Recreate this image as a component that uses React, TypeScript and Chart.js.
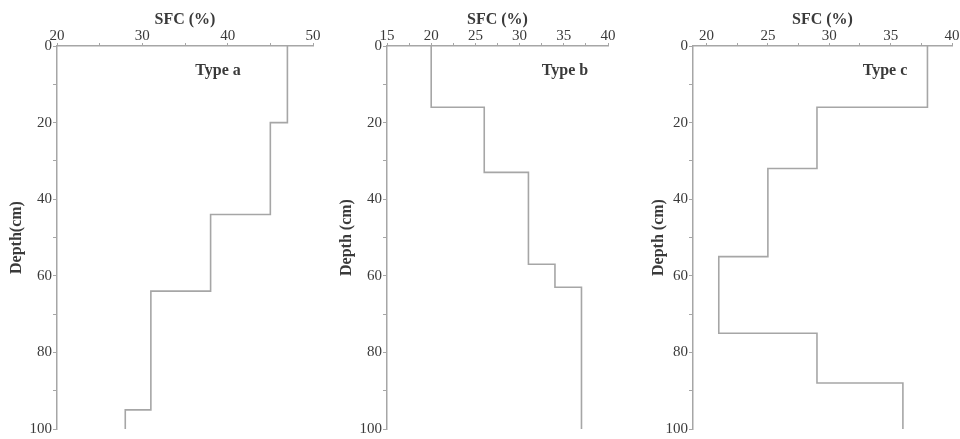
import React, { useEffect, useRef } from "react";
import { Chart, registerables } from "chart.js";

Chart.register(...registerables);

// Panel a
const depthA = [0, 20, 44, 64, 95, 100];
const sfcA = [47, 45, 38, 31, 28, 28];
const xTicksA = [20, 25, 30, 35, 40, 45, 50];
// Panel b
const depthB = [0, 16, 33, 57, 63, 100];
const sfcB = [20, 26, 31, 34, 37, 37];
const xTicksB = [15, 17.5, 20, 22.5, 25, 27.5, 30, 32.5, 35, 37.5, 40];
// Panel c
const depthC = [0, 16, 32, 55, 75, 88, 100];
const sfcC = [38, 29, 25, 21, 29, 36, 36];
const xTicksC = [20, 22.5, 25, 27.5, 30, 32.5, 35, 37.5, 40];

const yTicks = [0, 10, 20, 30, 40, 50, 60, 70, 80, 90, 100];
const yLabelStep = 20;

const FONT = "'Liberation Serif', 'Times New Roman', serif";
const LINE = "#a6a6a6";
const TEXT = "#3a3a3a";

type PanelProps = {
  left: number;
  width: number;
  depth: number[];
  sfc: number[];
  xTicks: number[];
  xMin: number;
  xMax: number;
  xLabelEvery: number;
  yTitle: string;
  yTitlePad: number;
  rightPad: number;
};

function Panel(p: PanelProps) {
  const ref = useRef<HTMLCanvasElement>(null);
  useEffect(() => {
    if (!ref.current) return;
    const pts = p.depth.map((d, i) => ({ x: p.sfc[i], y: d }));
    const chart = new Chart(ref.current, {
      type: "line",
      data: {
        datasets: [
          {
            data: pts,
            stepped: "after",
            borderColor: LINE,
            borderWidth: 1.6,
            pointRadius: 0,
            fill: false,
          },
        ],
      },
      options: {
        animation: false,
        responsive: false,
        maintainAspectRatio: false,
        layout: { padding: { left: 0, right: p.rightPad, top: 0, bottom: 9 } },
        plugins: { legend: { display: false }, tooltip: { enabled: false } },
        scales: {
          x: {
            type: "linear",
            position: "top",
            min: p.xMin,
            max: p.xMax,
            afterBuildTicks: (s: any) => {
              s.ticks = p.xTicks.map((v) => ({ value: v }));
            },
            afterFit: (s: any) => {
              s.height = 46;
            },
            border: { display: true, color: LINE, width: 1.5 },
            grid: { drawOnChartArea: false, drawTicks: true, tickLength: 3, color: LINE },
            ticks: {
              autoSkip: false,
              maxRotation: 0,
              padding: -2,
              color: TEXT,
              font: { family: FONT, size: 15 },
              callback: (v: any) => {
                const n = Number(v);
                return Math.abs(n / p.xLabelEvery - Math.round(n / p.xLabelEvery)) < 1e-6 ? String(n) : "";
              },
            },
            title: {
              display: true,
              text: "SFC (%)",
              color: TEXT,
              padding: { top: 10, bottom: 0 },
              font: { family: FONT, size: 16, weight: "bold" },
            },
          },
          y: {
            type: "linear",
            reverse: true,
            min: 0,
            max: 100,
            afterBuildTicks: (s: any) => {
              s.ticks = yTicks.map((v) => ({ value: v }));
            },
            afterFit: (s: any) => {
              s.width = 57;
            },
            border: { display: true, color: LINE, width: 1.5 },
            grid: { drawOnChartArea: false, drawTicks: true, tickLength: 4, color: LINE },
            ticks: {
              autoSkip: false,
              padding: 1,
              color: TEXT,
              font: { family: FONT, size: 15 },
              callback: (v: any) => (Number(v) % yLabelStep === 0 ? String(v) : ""),
            },
            title: {
              display: true,
              text: p.yTitle,
              color: TEXT,
              padding: { top: p.yTitlePad, bottom: 0 },
              font: { family: FONT, size: 16, weight: "bold" },
            },
          },
        },
      },
    });
    return () => chart.destroy();
  }, []);
  return (
    <canvas
      ref={ref}
      width={p.width}
      height={439}
      style={{ position: "absolute", left: p.left, top: 0, width: p.width, height: 439 }}
    />
  );
}

const typeStyle: React.CSSProperties = {
  position: "absolute",
  top: 60,
  fontFamily: FONT,
  fontWeight: "bold",
  fontSize: 16,
  color: TEXT,
  transform: "translateX(-50%)",
  whiteSpace: "nowrap",
  lineHeight: "20px",
};

export default function App() {
  return (
    <div style={{ position: "fixed", left: 0, top: 0, width: 960, height: 439, background: "#fff", overflow: "hidden" }}>
      <Panel left={0} width={330} depth={depthA} sfc={sfcA} xTicks={xTicksA} xMin={20} xMax={50} xLabelEvery={10} yTitle="Depth(cm)" yTitlePad={7} rightPad={17} />
      <Panel left={330} width={300} depth={depthB} sfc={sfcB} xTicks={xTicksB} xMin={15} xMax={40} xLabelEvery={5} yTitle="Depth (cm)" yTitlePad={7} rightPad={22} />
      <Panel left={636} width={324} depth={depthC} sfc={sfcC} xTicks={xTicksC} xMin={18.9} xMax={40} xLabelEvery={5} yTitle="Depth (cm)" yTitlePad={13} rightPad={8} />
      <div style={{ ...typeStyle, left: 218 }}>Type a</div>
      <div style={{ ...typeStyle, left: 565 }}>Type b</div>
      <div style={{ ...typeStyle, left: 885 }}>Type c</div>
    </div>
  );
}
